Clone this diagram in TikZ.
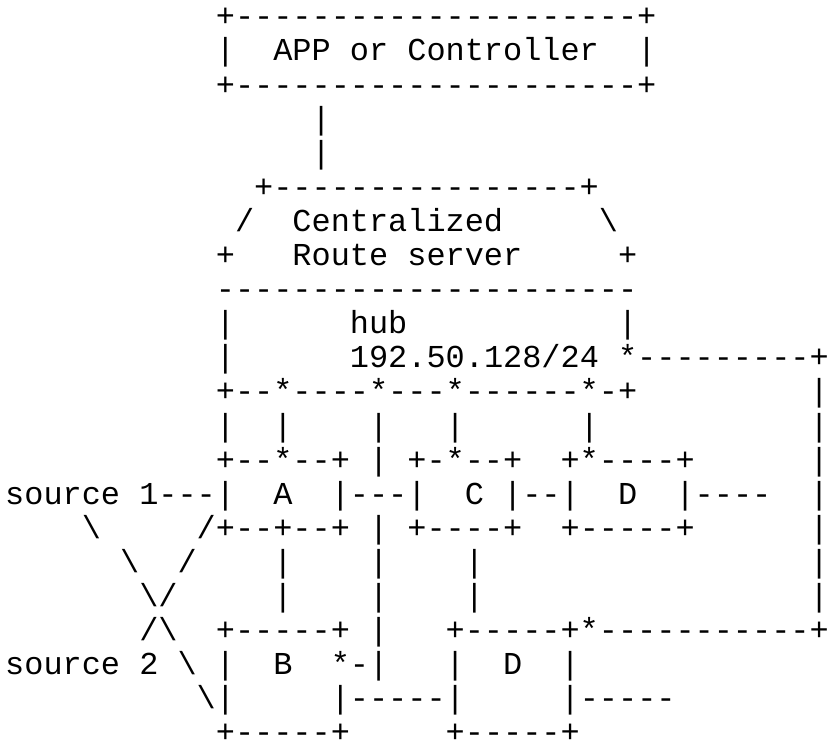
\documentclass[tikz,border=0pt]{standalone}
\usepackage{fontspec}
\setmonofont{Liberation Mono}
\usepackage{tikz}

% runs of dashes and blanks in a text row
\ExplSyntaxOn
\cs_new:Npn \asciidash #1 {\prg_replicate:nn {#1} {-}}
\cs_new:Npn \asciigap #1 {\prg_replicate:nn {#1} {\nobreakspace}}
\ExplSyntaxOff
\newcommand{\edgechar}[1]{\makebox[0.4em][l]{#1}} % last column, at the right edge

% column and row of the character grid
\newcommand{\cx}[1]{5+19.15*#1}
\newcommand{\ry}[1]{26.8+34.1*#1}

\begin{document}
\begin{tikzpicture}[x=1pt,y=-1pt,
    asciirow/.style={anchor=base west, inner sep=0pt, font=\ttfamily\fontsize{31.92}{34.1}\selectfont}]
    \useasboundingbox (0,0) rectangle (829,753);

    \node[asciirow] (row0) at ({\cx{11}},{\ry{0}}) {+\asciidash{21}+}; % APP box
    \node[asciirow] (row1) at ({\cx{11}},{\ry{1}}) {|~~APP~or~Controller~~|};
    \node[asciirow] (row2) at ({\cx{11}},{\ry{2}}) {+\asciidash{21}+};
    \node[asciirow] (row3) at ({\cx{16}},{\ry{3}}) {|};
    \node[asciirow] (row4) at ({\cx{16}},{\ry{4}}) {|};
    \node[asciirow] (row5) at ({\cx{13}},{\ry{5}}) {+\asciidash{16}+}; % route server
    \node[asciirow] (row6) at ({\cx{12}},{\ry{6}}) {/~~Centralized\asciigap{5}\textbackslash};
    \node[asciirow] (row7) at ({\cx{11}},{\ry{7}}) {+~~~Route~server\asciigap{5}+};
    \node[asciirow] (row8) at ({\cx{11}},{\ry{8}}) {\asciidash{22}};
    \node[asciirow] (row9) at ({\cx{11}},{\ry{9}}) {|\asciigap{6}hub\asciigap{11}|}; % hub
    \node[asciirow] (row10) at ({\cx{11}},{\ry{10}}) {|\asciigap{6}192.50.128/24~*\asciidash{9}\edgechar{+}};
    \node[asciirow] (row11) at ({\cx{11}},{\ry{11}}) {+--*----*---*------*-+\asciigap{9}\edgechar{|}};
    \node[asciirow] (row12) at ({\cx{11}},{\ry{12}}) {|~~|~~~~|~~~|\asciigap{6}|\asciigap{11}\edgechar{|}};
    \node[asciirow] (row13) at ({\cx{11}},{\ry{13}}) {+--*--+~|~+-*--+~~+*----+\asciigap{6}\edgechar{|}}; % A, C, D
    \node[asciirow] (row14) at ({\cx{0}},{\ry{14}}) {source~1---|~~A~~|---|~~C~|--|~~D~~|----~~\edgechar{|}};
    \node[asciirow] (row15) at ({\cx{4}},{\ry{15}}) {\textbackslash\asciigap{5}/+--+--+~|~+----+~~+-----+\asciigap{6}\edgechar{|}};
    \node[asciirow] (row16) at ({\cx{6}},{\ry{16}}) {\textbackslash~~/~~~~|~~~~|~~~~|\asciigap{17}\edgechar{|}};
    \node[asciirow] (row17) at ({\cx{7}},{\ry{17}}) {\textbackslash/\asciigap{5}|~~~~|~~~~|\asciigap{17}\edgechar{|}};
    \node[asciirow] (row18) at ({\cx{7}},{\ry{18}}) {/\textbackslash~~+-----+~|~~~+-----+*\asciidash{11}\edgechar{+}}; % B, D
    \node[asciirow] (row19) at ({\cx{0}},{\ry{19}}) {source~2~\textbackslash~|~~B~~*-|~~~|~~D~~|};
    \node[asciirow] (row20) at ({\cx{10}},{\ry{20}}) {\textbackslash|\asciigap{5}|-----|\asciigap{5}|-----};
    \node[asciirow] (row21) at ({\cx{11}},{\ry{21}}) {+-----+\asciigap{5}+-----+};
\end{tikzpicture}
\end{document}
